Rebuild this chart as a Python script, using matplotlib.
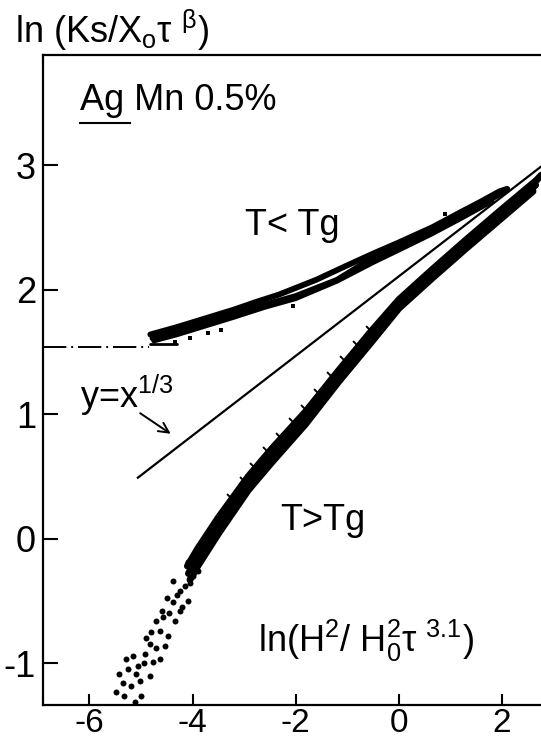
import matplotlib
matplotlib.use("Agg")
import matplotlib.pyplot as plt
from matplotlib.lines import Line2D

plt.rcParams['font.family'] = ['Liberation Sans Narrow', 'Liberation Sans', 'DejaVu Sans']

# ---------------- data ----------------
x_ticks = [-6, -4, -2, 0, 2]
y_ticks = [-1, 0, 1, 2, 3]

# T < Tg branch (overlapping runs forming the upper band)
tlt_a_x = [-4.82, -4.30, -3.75, -3.20, -2.78, -2.33, -1.60, -1.03, -0.50, 0.00, 0.64, 1.23, 1.60, 1.95, 2.10]
tlt_a_y = [1.64, 1.70, 1.77, 1.84, 1.90, 1.96, 2.08, 2.19, 2.29, 2.38, 2.50, 2.63, 2.71, 2.79, 2.81]
tlt_m_x = [-4.78, -4.30, -3.75, -3.20, -2.60, -2.00, -1.20, -0.50, 0.00, 0.64, 1.23, 1.80, 2.05]
tlt_m_y = [1.61, 1.67, 1.74, 1.81, 1.88, 1.95, 2.08, 2.26, 2.35, 2.47, 2.60, 2.73, 2.79]
tlt_b_x = [-4.75, -4.30, -3.75, -3.20, -2.60, -2.00, -1.20, -0.50, 0.00, 0.64, 1.23, 1.80]
tlt_b_y = [1.59, 1.64, 1.71, 1.78, 1.86, 1.93, 2.07, 2.22, 2.32, 2.45, 2.58, 2.71]
tlt_c_x = [-4.82, -4.30]
tlt_c_y = [1.56, 1.56]
tlt_s_x = [-4.35, -4.05, -3.70, -3.45, -2.05, 0.90]
tlt_s_y = [1.58, 1.61, 1.65, 1.68, 1.87, 2.61]

# extrapolation (dash-dot) to the left
dd_x = [-6.90, -4.85]
dd_y = [1.54, 1.54]

# T > Tg branch: dense band (three runs) ...
tgt_a_x = [-4.10, -3.90, -3.50, -2.92, -2.47, -1.81, -1.17, -0.53, 0.00, 0.64, 1.30, 1.95, 2.67, 2.76]
tgt_a_y = [-0.22, -0.08, 0.17, 0.50, 0.72, 1.02, 1.35, 1.67, 1.92, 2.16, 2.40, 2.63, 2.88, 2.92]
tgt_m_x = [-4.08, -3.90, -3.50, -2.92, -2.47, -1.81, -1.17, -0.53, 0.00, 0.64, 1.30, 1.95, 2.65]
tgt_m_y = [-0.28, -0.15, 0.10, 0.445, 0.665, 0.97, 1.305, 1.625, 1.885, 2.125, 2.365, 2.595, 2.84]
tgt_b_x = [-4.05, -3.90, -3.50, -2.92, -2.47, -1.81, -1.17, -0.53, 0.00, 0.64, 1.30, 1.95, 2.60]
tgt_b_y = [-0.33, -0.22, 0.04, 0.39, 0.61, 0.92, 1.26, 1.58, 1.85, 2.09, 2.33, 2.56, 2.79]
# symbols sticking out on the upper-left edge of the band
tgt_e_x = [-3.30, -3.05, -2.85, -2.60, -2.35, -2.10, -1.85, -1.60, -1.35, -1.10, -0.85, -0.60]
tgt_e_y = [0.34, 0.48, 0.59, 0.72, 0.83, 0.95, 1.06, 1.19, 1.32, 1.45, 1.57, 1.69]
# ... and scattered points at its low end
tgt_s_x = [-5.42, -5.10, -4.83, -5.19, -5.02, -5.48, -5.32, -5.00, -5.12, -5.29, -5.16, -4.92,
           -4.77, -4.63, -4.83, -4.53, -4.80, -4.63, -4.47, -4.57, -4.34, -4.38, -4.09, -4.24,
           -4.05, -4.38, -3.89, -4.09, -4.45, -4.20, -4.00, -3.75, -4.30, -4.15, -3.95, -3.80,
           -4.50, -4.60, -4.70, -4.90, -5.05, -5.25, -5.35, -4.70, -4.95, -4.25, -3.65]
tgt_s_y = [-1.09, -1.09, -1.10, -1.18, -1.14, -1.23, -1.26, -1.26, -1.31, -0.97, -0.94, -0.93,
           -0.99, -0.97, -0.85, -0.86, -0.75, -0.74, -0.78, -0.63, -0.66, -0.51, -0.50, -0.42,
           -0.36, -0.34, -0.26, -0.19, -0.60, -0.55, -0.30, -0.10, -0.45, -0.38, -0.22, -0.12,
           -0.48, -0.58, -0.66, -0.80, -1.02, -1.05, -1.16, -0.88, -1.00, -0.58, 0.02]

# reference line y = x^(1/3) (slope 1/3 in the log-log plot)
ref_x = [-5.06, 2.76]
ref_y = [0.49, 2.99]

# ---------------- figure ----------------
fig = plt.figure(figsize=(5.41, 7.47), dpi=100)
ax = fig.add_axes([43 / 541, 42 / 747, 498 / 541, 650 / 747])

ax.set_xlim(-6.90, 2.755)
ax.set_ylim(-1.336, 3.885)

band = dict(color='black', solid_capstyle='round', solid_joinstyle='round')
ax.plot(tlt_a_x, tlt_a_y, lw=4.2, **band)
ax.plot(tlt_m_x, tlt_m_y, lw=4.0, **band)
ax.plot(tlt_b_x, tlt_b_y, lw=3.8, **band)
ax.plot(tlt_c_x, tlt_c_y, lw=2.0, **band)
ax.plot(tlt_s_x, tlt_s_y, 's', color='black', ms=2.5, mew=0)
ax.plot(dd_x, dd_y, color='black', lw=1.4, linestyle=(0, (12, 2.5, 1, 2.5)))

ax.plot(tgt_a_x, tgt_a_y, lw=5.0, **band)
ax.plot(tgt_m_x, tgt_m_y, lw=5.0, **band)
ax.plot(tgt_b_x, tgt_b_y, lw=5.0, **band)
ax.plot(tgt_e_x, tgt_e_y, linestyle='none', marker=(2, 0, 45), color='black', ms=5, mew=1.4)
ax.plot(tgt_s_x, tgt_s_y, 'o', color='black', ms=4.3, mew=0)

ax.plot(ref_x, ref_y, color='black', lw=1.6)
ax.annotate('', xy=(-4.38, 0.83), xytext=(-5.06, 1.02),
            arrowprops=dict(arrowstyle='->', lw=1.4, color='black', mutation_scale=18))

# texts
fs = 26
ax.text(-6.18, 3.44, 'Ag Mn 0.5%', fontsize=fs, va='baseline', ha='left')
fig.add_artist(Line2D([80 / 541, 130 / 541], [1 - 123 / 747, 1 - 123 / 747], color='black', lw=1.5))
ax.text(-2.98, 2.44, 'T< Tg', fontsize=fs, va='baseline', ha='left')
ax.text(-2.30, 0.07, 'T>Tg', fontsize=fs, va='baseline', ha='left')
ax.text(-6.18, 1.05, r'y=x$^{\mathregular{1/3}}$', fontsize=fs, va='baseline', ha='left')
ax.text(-2.73, -0.91, r'ln(H$^{\mathregular{2}}$/ H$_{\mathregular{0}}^{\mathregular{2}}$τ $^{\mathregular{3.1}}$)',
        fontsize=fs, va='baseline', ha='left')
fig.text(15 / 541, 1 - 43 / 747, r'ln (Ks/X$_{\mathregular{o}}$τ $^{\mathregular{β}}$)', fontsize=fs,
         va='baseline', ha='left')

# axes styling
ax.set_xticks(x_ticks)
ax.set_yticks(y_ticks)
ax.set_xticklabels([str(v) for v in x_ticks])
ax.set_yticklabels([str(v) for v in y_ticks])
ax.tick_params(axis='both', direction='in', width=1.5, color='black')
ax.tick_params(axis='y', length=11, pad=5, labelsize=fs)
ax.tick_params(axis='x', length=8, pad=2, labelsize=24)
for s in ['left', 'bottom', 'top']:
    ax.spines[s].set_linewidth(1.6)
ax.spines['right'].set_visible(False)

fig.savefig('out.png', dpi=100)
